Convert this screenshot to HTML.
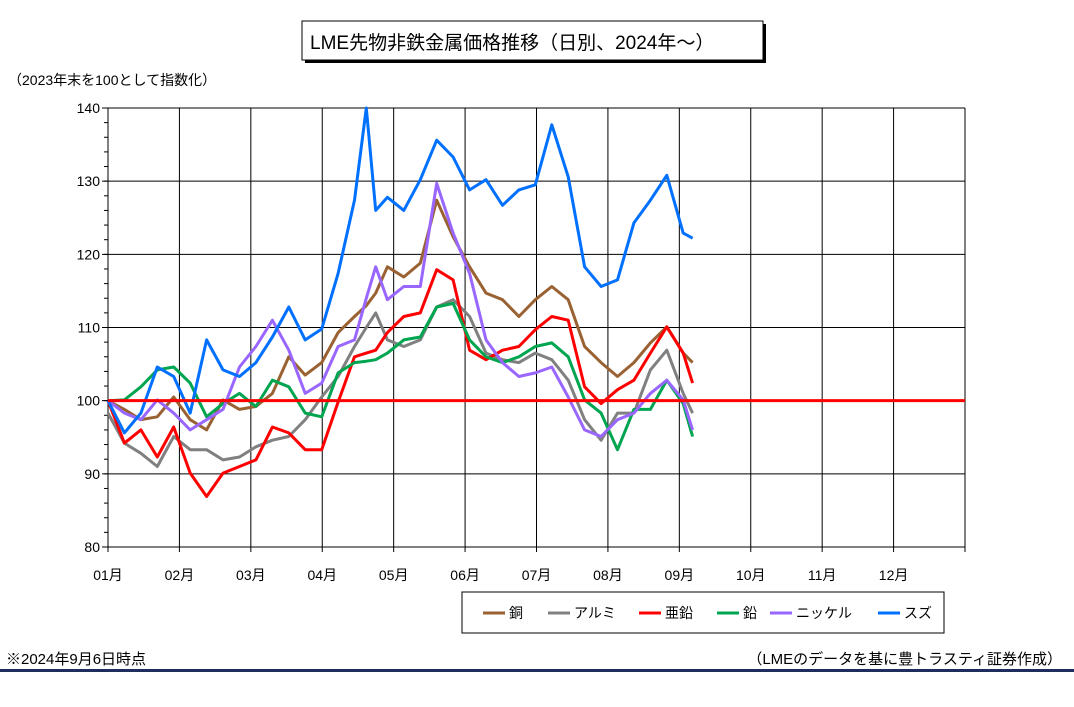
<!DOCTYPE html>
<html><head><meta charset="utf-8"><style>
body{margin:0;background:#fff;}
svg{display:block;font-family:"Liberation Sans","Noto Sans CJK JP",sans-serif;}
</style></head><body>
<svg id="chart" width="1074" height="707" viewBox="0 0 1074 707">
<rect x="305" y="24" width="461" height="39" fill="#000"/>
<rect x="302" y="21" width="461" height="39" fill="#fff" stroke="#000" stroke-width="1"/>
<text x="310" y="49" font-size="19">LME先物非鉄金属価格推移（日別、2024年～）</text>
<text x="8" y="85" font-size="14">（2023年末を100として指数化）</text>
<g id="grid"></g>
<g id="series"></g>
<rect x="462" y="592" width="482" height="41" fill="#fff" stroke="#000" stroke-width="1"/>
<g id="legend"></g>
<text x="6" y="664" font-size="15">※2024年9月6日時点</text>
<text x="1062" y="664" font-size="15" text-anchor="end">（LMEのデータを基に豊トラスティ証券作成）</text>
<rect x="0" y="669" width="1074" height="3" fill="#1f2d5c"/>
</svg>
<script>
const monthLabels=["01月","02月","03月","04月","05月","06月","07月","08月","09月","10月","11月","12月"];
const yTicks=[80,90,100,110,120,130,140];
const days=[0,7,14,21,28,35,42,49,56,63,70,77,84,91,98,105,110,114,119,126,133,140,147,154,161,168,175,182,189,196,203,210,217,224,231,238,245,249];
const copper=[100,98.8,97.4,97.8,100.5,97.4,96,100.1,98.8,99.2,101,106,103.5,105.2,109.3,111.5,113,114.7,118.3,116.9,118.8,127.4,122.4,118.3,114.7,113.8,111.5,113.8,115.6,113.8,107.4,105.2,103.3,105.2,107.9,110.1,106.5,105.2];
const aluminium=[98.3,94.2,92.8,91,95.1,93.3,93.3,91.9,92.3,93.7,94.6,95.1,97.4,100.5,103.3,107.4,110,112,108.3,107.4,108.3,112.8,113.8,111.5,106.5,105.6,105.2,106.5,105.6,102.8,97.4,94.6,98.3,98.3,104.2,106.9,101,98.3];
const zinc=[100,94.2,96,92.3,96.4,90.1,86.9,90.1,91,91.9,96.4,95.6,93.3,93.3,99.8,106,106.5,106.9,109.3,111.5,112,117.9,116.5,106.9,105.6,106.9,107.4,109.7,111.5,111,101.9,99.6,101.5,102.8,106.5,110.1,106.5,102.4];
const lead=[100,100.1,101.9,104.2,104.6,102.4,97.8,99.6,101,99.2,102.8,101.9,98.3,97.8,103.8,105.2,105.4,105.6,106.5,108.3,108.7,112.8,113.3,108.3,106,105.2,106,107.4,107.9,106,100.1,98.3,93.3,98.8,98.8,102.8,99.6,95.1];
const nickel=[100,98.3,97.4,100.1,98.3,96,97.4,98.8,104.6,107.4,111,106.9,101,102.4,107.4,108.3,114,118.3,113.8,115.6,115.6,129.7,122.9,117.4,108.3,105.2,103.3,103.8,104.6,100.5,96,95.1,97.4,98.3,101,102.8,100.1,96];
const tin=[100,95.6,98.3,104.6,103.3,98.3,108.3,104.2,103.3,105.2,108.7,112.8,108.3,109.8,117.4,127.4,140,126,127.8,126,130.2,135.6,133.3,128.8,130.2,126.7,128.8,129.5,137.7,130.6,118.3,115.6,116.5,124.3,127.4,130.8,122.9,122.2];
const seriesNames=["銅","アルミ","亜鉛","鉛","ニッケル","スズ"];
const seriesColors=["#9a6232","#808080","#ff0000","#00a550","#9966ff","#0070ff"];
const seriesData=[copper,aluminium,zinc,lead,nickel,tin];

const NS="http://www.w3.org/2000/svg";
const X0=108,X1=965,Y0=547,Y1=108,YMIN=80,YMAX=140;
const xDay=d=>X0+d*(X1-X0)/365;
const yVal=v=>Y0-(v-YMIN)*(Y0-Y1)/(YMAX-YMIN);
function mk(tag,attrs,parent){const e=document.createElementNS(NS,tag);for(const k in attrs)e.setAttribute(k,attrs[k]);parent.appendChild(e);return e;}
const grid=document.getElementById('grid');
for(let v=YMIN;v<=YMAX;v+=2){
  const t=mk('line',{x1:X0-4,x2:X0,y1:yVal(v),y2:yVal(v),stroke:'#000','stroke-width':1},grid);
  
  
}
yTicks.forEach(v=>{
  const l=mk('line',{x1:X0-6,x2:X1,y1:yVal(v),y2:yVal(v),stroke:'#000','stroke-width':1},grid);
  
  
  const t=mk('text',{x:X0-8,y:yVal(v)+5,'font-size':14,'text-anchor':'end'},grid);
  t.textContent=v;
  
  
});
for(let m=0;m<=12;m++){
  const x=X0+m*(X1-X0)/12;
  const l=mk('line',{x1:x,x2:x,y1:Y1,y2:Y0+5,stroke:'#000','stroke-width':1},grid);
  
  
  if(m<12){
    const t=mk('text',{x:x,y:580,'font-size':14,'text-anchor':'middle'},grid);
    t.textContent=monthLabels[m];
    
    
  }
}
const sg=document.getElementById('series');
seriesData.forEach((arr,i)=>{
  const pts=arr.map((v,j)=>xDay(days[j]).toFixed(1)+','+yVal(v).toFixed(1)).join(' ');
  const p=mk('polyline',{points:pts,fill:'none',stroke:seriesColors[i],'stroke-width':3,'stroke-linejoin':'round'},sg);
  
  
});
const base=mk('line',{x1:X0,x2:X1,y1:yVal(100),y2:yVal(100),stroke:'#ff0000','stroke-width':3},sg);


const lg=document.getElementById('legend');
const lx=[483,548,639,717,770,878];
seriesNames.forEach((n,i)=>{
  const l=mk('line',{x1:lx[i],x2:lx[i]+22,y1:613,y2:613,stroke:seriesColors[i],'stroke-width':3},lg);
  
  
  const t=mk('text',{x:lx[i]+26,y:618,'font-size':14},lg);
  t.textContent=n;
  
  
});
</script>
</body></html>
